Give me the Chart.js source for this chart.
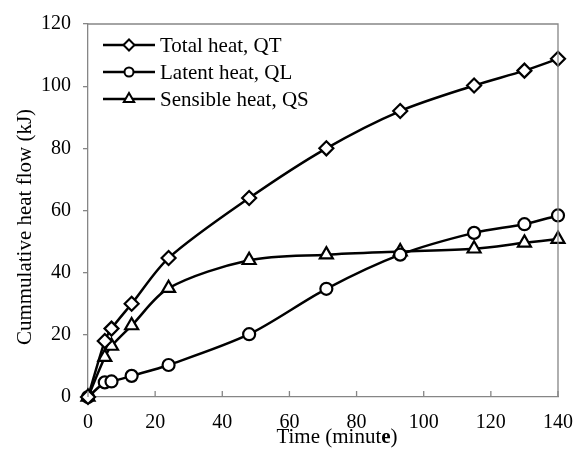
<!DOCTYPE html>
<html>
<head>
<meta charset="utf-8">
<script src="https://cdn.jsdelivr.net/npm/chart.js@4.4.1/dist/chart.umd.min.js"></script>
<style>
  html, body { margin: 0; padding: 0; background: #fff; }
  #wrap { width: 587px; height: 449px; }
</style>
</head>
<body>
<div id="wrap"><canvas id="heatchart"></canvas></div>
<script>
const times = [0, 5, 7, 13, 24, 48, 71, 93, 115, 130, 140];
const totalHeat = [0, 18, 22, 30, 44.7, 64, 80, 92, 100.2, 105, 108.8];
const latentHeat = [0, 4.7, 5, 6.8, 10.3, 20.2, 34.8, 45.8, 52.8, 55.6, 58.4];
const sensibleHeat = [0, 12.8, 16.4, 23, 35, 44, 45.8, 46.8, 47.7, 49.6, 50.8];
const xTicks = [0, 20, 40, 60, 80, 100, 120, 140];
const yTicks = [0, 20, 40, 60, 80, 100, 120];

const serif = "'Liberation Serif', 'Times New Roman', serif";
const axisGray = "#868686";
const markerSize = { rectRot: 7, circle: 6, triangle: 7.5 };

const toPoints = (values) => values.map((v, i) => ({ x: times[i], y: v }));

const makeSet = (label, values, style) => ({
  label: label,
  data: toPoints(values),
  borderColor: "#000",
  borderWidth: 2.5,
  backgroundColor: "#fff",
  pointStyle: style,
  pointRadius: markerSize[style],
  pointBorderWidth: 2.2,
  pointBackgroundColor: "#fff",
  pointBorderColor: "#000",
  tension: 0.3,
  fill: false,
  clip: false,
});

const extras = {
  id: "extras",
  afterDraw(chart) {
    const ctx = chart.ctx;
    const a = chart.chartArea;
    const xs = chart.scales.x;

    ctx.save();
    // box around plot area
    ctx.strokeStyle = axisGray;
    ctx.lineWidth = 1.3;
    ctx.beginPath();
    ctx.moveTo(a.left, a.top);
    ctx.lineTo(a.right, a.top);
    ctx.lineTo(a.right, a.bottom);
    ctx.stroke();

    // inner x ticks
    ctx.beginPath();
    xTicks.forEach((t) => {
      const px = xs.getPixelForValue(t);
      ctx.moveTo(px, a.bottom);
      ctx.lineTo(px, a.bottom - 6);
    });
    ctx.stroke();

    // legend
    const items = chart.data.datasets;
    ctx.font = "21px " + serif;
    ctx.textBaseline = "middle";
    ctx.fillStyle = "#000";
    items.forEach((ds, i) => {
      const y = a.top + 21 + i * 27;
      const x0 = a.left + 15;
      ctx.strokeStyle = "#000";
      ctx.lineWidth = 2.5;
      ctx.beginPath();
      ctx.moveTo(x0, y);
      ctx.lineTo(x0 + 52, y);
      ctx.stroke();
      ctx.lineWidth = 2;
      ctx.fillStyle = "#fff";
      Chart.helpers.drawPoint(ctx, { pointStyle: ds.pointStyle, radius: ds.pointRadius - 1.5, borderWidth: 2 }, x0 + 26, y);
      ctx.fillStyle = "#000";
      ctx.textAlign = "left";
      ctx.fillText(ds.label, x0 + 57, y + 1);
    });

    // x title with bold "e"
    const tf = "21px " + serif;
    const tb = "bold 21px " + serif;
    ctx.font = tf;
    ctx.textBaseline = "alphabetic";
    const p1 = "Time (minut";
    const p3 = ")";
    const w1 = ctx.measureText(p1).width;
    const w3 = ctx.measureText(p3).width;
    ctx.font = tb;
    const w2 = ctx.measureText("e").width;
    const tx = 337 - (w1 + w2 + w3) / 2;
    ctx.font = tf;
    ctx.fillText(p1, tx, 443);
    ctx.font = tb;
    ctx.fillText("e", tx + w1, 443);
    ctx.font = tf;
    ctx.fillText(p3, tx + w1 + w2, 443);

    // y title
    ctx.translate(25, 227);
    ctx.rotate(-Math.PI / 2);
    ctx.textAlign = "center";
    ctx.textBaseline = "middle";
    ctx.fillText("Cummulative heat flow (kJ)", 0, 0);
    ctx.restore();
  },
};

const ctx = document.getElementById("heatchart").getContext("2d");
new Chart(ctx, {
  type: "line",
  data: {
    datasets: [
      makeSet("Total heat, QT", totalHeat, "rectRot"),
      makeSet("Latent heat, QL", latentHeat, "circle"),
      makeSet("Sensible heat, QS", sensibleHeat, "triangle"),
    ],
  },
  options: {
    responsive: true,
    maintainAspectRatio: false,
    animation: false,
    layout: { padding: { top: 20, right: 27, left: 0, bottom: 0 } },
    plugins: { legend: { display: false }, tooltip: { enabled: false } },
    scales: {
      x: {
        type: "linear",
        min: 0,
        max: 140,
        afterBuildTicks: (s) => { s.ticks = xTicks.map((v) => ({ value: v })); },
        afterFit: (s) => { s.height = 52; },
        grid: { display: true, drawOnChartArea: false, drawTicks: false },
        border: { color: axisGray, width: 1.3 },
        ticks: { color: "#000", font: { family: serif, size: 20 }, padding: 14, maxRotation: 0 },
      },
      y: {
        min: 0,
        max: 120,
        afterBuildTicks: (s) => { s.ticks = yTicks.map((v) => ({ value: v })); },
        afterFit: (s) => { s.width = 88; },
        grid: { display: true, drawOnChartArea: false, drawTicks: true, tickLength: 5, color: axisGray, lineWidth: 1.3 },
        border: { color: axisGray, width: 1.3 },
        ticks: { color: "#000", font: { family: serif, size: 20 }, padding: 12 },
      },
    },
  },
  plugins: [extras],
});
</script>
</body>
</html>
